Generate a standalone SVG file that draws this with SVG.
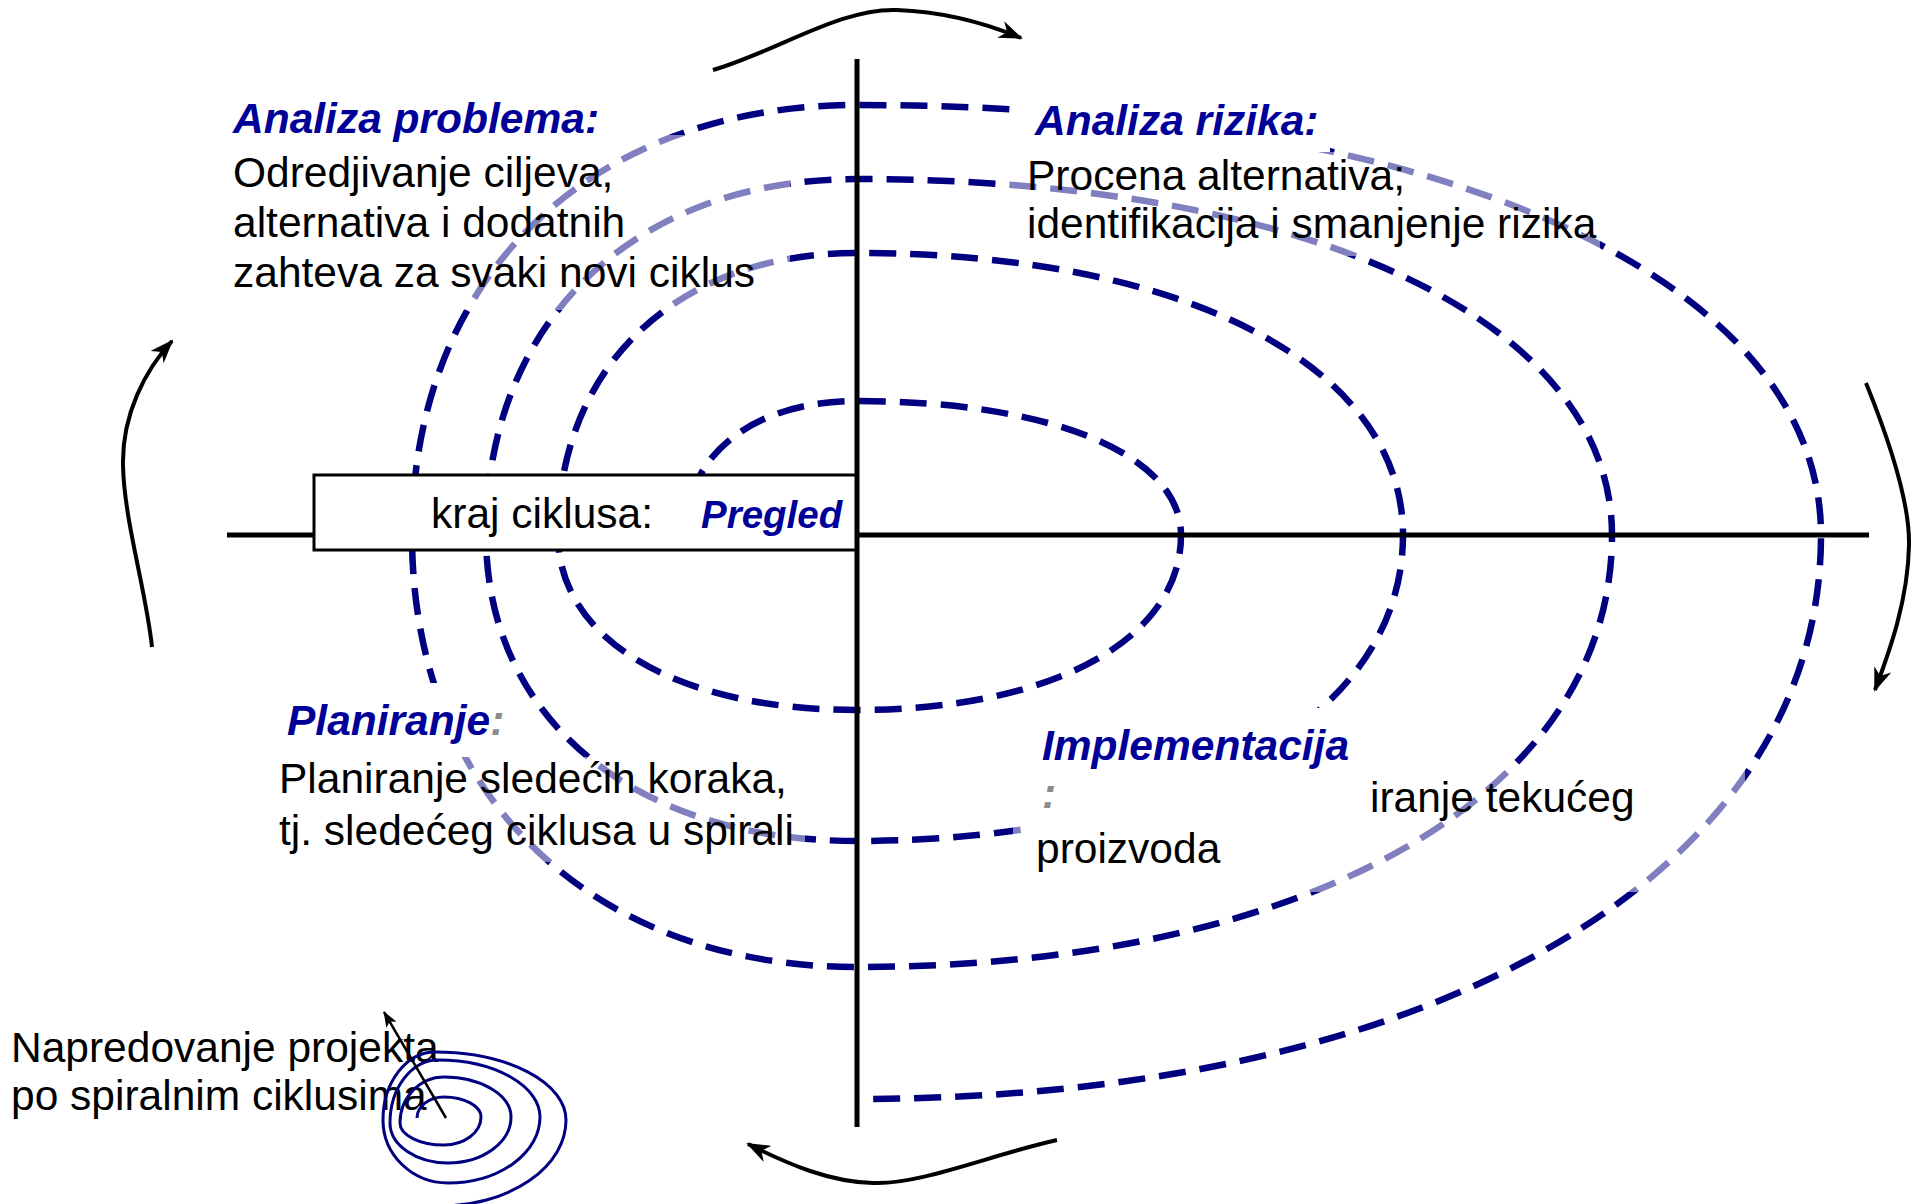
<svg xmlns="http://www.w3.org/2000/svg" width="1925" height="1204" viewBox="0 0 1925 1204">
<style>
.txt{font-family:"Liberation Sans",Arial,sans-serif;font-size:42.5px;fill:#000}
.ttl{font-family:"Liberation Sans",Arial,sans-serif;font-size:42.5px;font-weight:bold;font-style:italic;fill:#000099}
.gry{fill:#8c8c8c}
.spiral{fill:none;stroke:#000080;stroke-width:6.5;stroke-dasharray:27 14}
.axis{stroke:#000;stroke-width:5;fill:none}
.arr{fill:none;stroke:#000;stroke-width:4}
.veil{fill:#fff;fill-opacity:0.5}
.hide{fill:#fff}
</style>
<defs>
<marker id="ah" viewBox="0 0 24 18" refX="22" refY="9" markerWidth="24" markerHeight="18" markerUnits="userSpaceOnUse" orient="auto">
<path d="M0,0 L24,9 L0,18 L7,9 z" fill="#000"/>
</marker>
<marker id="ahs" viewBox="0 0 16 12" refX="15" refY="6" markerWidth="16" markerHeight="12" markerUnits="userSpaceOnUse" orient="auto">
<path d="M0,0 L16,6 L0,12 L4,6 z" fill="#000"/>
</marker>
</defs>

<g id="connectors">
<path id="spiral" class="spiral" d="M685,535 C685,454.6 753.8,401 857,401 C1051.4,401 1181,454.6 1181,535 C1181,640 1051.4,710 857,710 C677.6,710 558,640 558,535 C558,365.8 677.6,253 857,253 C1184.6,253 1403,365.8 1403,535 C1403,718.6 1184.6,841 857,841 C634.4,841 486,718.6 486,535 C486,321.4 634.4,179 857,179 C1310,179 1612,321.4 1612,535 C1612,794.2 1310,967 857,967 C590,967 412,794.2 412,535 C412,277 590,105 857,105 C1435.4,105 1821,277 1821,535 C1821,873.4 1435.4,1099 857,1099"/>
<line class="axis" x1="227" y1="535" x2="1869" y2="535"/>
<path class="arr" marker-end="url(#ah)" d="M713,70 C780,50 840,8 897,10 C950,12 990,25 1021,38"/>
<path class="arr" marker-end="url(#ah)" d="M1057,1140 C990,1155 920,1185 873,1183 C830,1182 790,1165 748,1144"/>
<path class="arr" marker-end="url(#ah)" d="M152,647 C146,590 124,520 123,465 C122,415 145,370 172,341"/>
<path class="arr" marker-end="url(#ah)" d="M1866,383 C1885,430 1910,500 1909,545 C1908,600 1890,650 1875,690"/>
</g>

<g id="veils">
<rect class="veil" x="225" y="135" width="565" height="175"/>
<rect class="veil" x="1005" y="152" width="595" height="104"/>
<rect class="veil" x="270" y="757" width="535" height="105"/>
<rect class="veil" x="1013" y="768" width="732" height="124"/>
<rect class="hide" x="1015" y="82" width="315" height="70"/>
<rect class="hide" x="270" y="683" width="250" height="74"/>
<rect class="hide" x="1031" y="708" width="334" height="127"/>
</g>

<g id="node-review">
<rect x="314" y="475" width="543" height="75" fill="#fff" stroke="#000" stroke-width="3"/>
<text class="txt" x="431" y="528">kraj ciklusa:</text>
<text class="ttl" x="701" y="528" style="font-size:38.5px">Pregled</text>
</g>

<line class="axis" x1="857" y1="59" x2="857" y2="1127"/>

<g id="node-analiza-problema">
<text class="ttl" x="233" y="133">Analiza problema:</text>
<text class="txt" x="233" y="187">Odredjivanje ciljeva,</text>
<text class="txt" x="233" y="237">alternativa i dodatnih</text>
<text class="txt" x="233" y="287">zahteva za svaki novi ciklus</text>
</g>

<g id="node-analiza-rizika">
<text class="ttl" x="1035" y="135">Analiza rizika:</text>
<text class="txt" x="1027" y="190">Procena alternativa;</text>
<text class="txt" x="1027" y="238">identifikacija i smanjenje rizika</text>
</g>

<g id="node-planiranje">
<text class="ttl" x="287" y="735">Planiranje<tspan class="gry">:</tspan></text>
<text class="txt" x="279" y="793">Planiranje sledećih koraka,</text>
<text class="txt" x="279" y="845">tj. sledećeg ciklusa u spirali</text>
</g>

<g id="node-implementacija">
<text class="ttl" x="1042" y="760">Implementacija</text>
<text class="ttl gry" x="1042" y="808">:</text>
<text class="txt" x="1370" y="812">iranje tekućeg</text>
<text class="txt" x="1036" y="863">proizvoda</text>
</g>

<g id="node-legend">
<text class="txt" x="11" y="1062">Napredovanje projekta</text>
<text class="txt" x="11" y="1110">po spiralnim ciklusima</text>
<path fill="none" stroke="#000080" stroke-width="3" d="M417,1118 A27,21 0 0 1 444,1097 A37,20 0 0 1 481,1117 A37,28 0 0 1 444,1145 A44,22 0 0 1 400,1123 A44,46 0 0 1 444,1077 A67,40 0 0 1 511,1117 A63,46 0 0 1 448,1163 A58,40 0 0 1 390,1123 A48,63 0 0 1 438,1060 A102,57 0 0 1 540,1117 A92,66 0 0 1 448,1183 A65,63 0 0 1 383,1120 A52,68 0 0 1 435,1052 A131,68 0 0 1 566,1120 A126,86 0 0 1 440,1206"/>
<line x1="446" y1="1118" x2="384" y2="1012" stroke="#000" stroke-width="2.5" marker-end="url(#ahs)"/>
</g>
</svg>
